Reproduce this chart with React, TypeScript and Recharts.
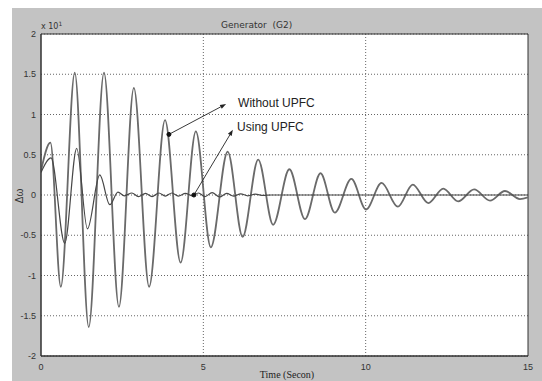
import React from 'react';
import {
  LineChart,
  Line,
  XAxis,
  YAxis,
  CartesianGrid,
  ReferenceArea,
  ReferenceLine,
  ReferenceDot,
} from 'recharts';

// Time (s) and Δω (x10^-1)
const withoutUpfcTime = [
  0, 0.29, 0.61, 1.04, 1.47, 1.94, 2.4, 2.86, 3.33, 3.82, 4.3, 4.77, 5.23, 5.75, 6.21, 6.69,
  7.15, 7.65, 8.13, 8.61, 9.05, 9.56, 10.01, 10.49, 10.99, 11.45, 11.93, 12.39, 12.85, 13.34,
  13.83, 14.29, 14.75, 15,
];
const withoutUpfcValues = [
  0.3, 0.65, -1.14, 1.52, -1.64, 1.52, -1.39, 1.33, -1.14, 0.93, -0.84, 0.79, -0.65, 0.54,
  -0.52, 0.44, -0.37, 0.32, -0.3, 0.27, -0.22, 0.2, -0.18, 0.15, -0.145, 0.13, -0.1, 0.08,
  -0.08, 0.07, -0.07, 0.05, -0.05, -0.03,
];

const usingUpfcTime = [
  0, 0.31, 0.73, 1.1, 1.43, 1.81, 2.12, 2.37, 2.57, 2.8, 3.0, 3.22, 3.42, 3.63, 3.83, 4.03,
  4.23, 4.45, 4.65, 4.85, 5.05, 5.27, 5.5, 5.72, 5.93, 6.15, 6.37, 6.6, 6.85, 7.1, 15,
];
const usingUpfcValues = [
  0.28, 0.46, -0.6, 0.58, -0.42, 0.25, -0.12, 0.035, -0.01, 0.025, -0.02, 0.02, -0.02, 0.025,
  -0.015, 0.025, -0.015, 0.02, -0.01, 0.025, -0.02, 0.03, -0.025, 0.02, -0.015, 0.015, -0.01,
  0.01, -0.005, 0, 0,
];

const xTicks = [0, 5, 10, 15];
const yTicks = [-2, -1.5, -1, -0.5, 0, 0.5, 1, 1.5, 2];

const withoutData = withoutUpfcTime.map((t, i) => ({ t, v: withoutUpfcValues[i] }));
const usingData = usingUpfcTime.map((t, i) => ({ t, v: usingUpfcValues[i] }));

const arrowShape = (p: any) => {
  const { x1, y1, x2, y2 } = p;
  const dx = x2 - x1;
  const dy = y2 - y1;
  const len = Math.sqrt(dx * dx + dy * dy) || 1;
  const ux = dx / len;
  const uy = dy / len;
  const hl = 6;
  const hw = 2.2;
  const bx = x2 - ux * hl;
  const by = y2 - uy * hl;
  const pts = `${x2},${y2} ${bx - uy * hw},${by + ux * hw} ${bx + uy * hw},${by - ux * hw}`;
  return (
    <g>
      <line x1={x1} y1={y1} x2={bx} y2={by} stroke="#222" strokeWidth={0.9} />
      <polygon points={pts} fill="#222" />
    </g>
  );
};

const textShape = (label: string) => (p: any) => (
  <text
    x={p.cx}
    y={p.cy}
    fontFamily="Liberation Sans, Arial, sans-serif"
    fontSize={12}
    fill="#222"
  >
    {label}
  </text>
);

const tickStyle = { fontSize: 9, fill: '#333', fontFamily: 'Liberation Sans, Arial, sans-serif' };

export default function App() {
  return (
    <div style={{ position: 'absolute', left: 0, top: 0, width: 542, height: 381, background: '#fff' }}>
      <div style={{ position: 'absolute', left: 12, top: 8, width: 530, height: 373, background: '#c3c3c3' }} />
      <div style={{ position: 'absolute', left: 0, top: 0 }}>
        <LineChart width={542} height={381} margin={{ top: 34, right: 14, bottom: 5, left: 11 }}>
          <CartesianGrid
            fill="#ffffff"
            stroke="#666"
            strokeDasharray="1 2"
            verticalValues={[5, 10]}
          />
          <XAxis
            type="number"
            dataKey="t"
            domain={[0, 15]}
            ticks={xTicks}
            allowDataOverflow
            height={20}
            tickLine={false}
            axisLine={{ stroke: '#333' }}
            tick={tickStyle}
          />
          <YAxis
            type="number"
            domain={[-2, 2]}
            ticks={yTicks}
            allowDataOverflow
            width={30}
            tickLine={false}
            tickSize={4}
            tickMargin={1}
            axisLine={{ stroke: '#333' }}
            tick={tickStyle}
          />
          <Line
            data={withoutData}
            dataKey="v"
            type="monotone"
            stroke="#6a6a6a"
            strokeWidth={1.8}
            dot={false}
            isAnimationActive={false}
          />
          <Line
            data={usingData}
            dataKey="v"
            type="monotone"
            stroke="#474747"
            strokeWidth={1.2}
            dot={false}
            isAnimationActive={false}
          />
          <ReferenceArea x1={0} x2={15} y1={-2} y2={2} fill="none" fillOpacity={0} stroke="#333" strokeWidth={1} />
          <ReferenceLine segment={[{ x: 3.94, y: 0.753 }, { x: 5.7, y: 1.13 }]} shape={arrowShape} />
          <ReferenceLine segment={[{ x: 4.71, y: 0 }, { x: 5.91, y: 0.81 }]} shape={arrowShape} />
          <ReferenceDot x={3.94} y={0.753} r={2} fill="#111" stroke="#111" />
          <ReferenceDot x={4.71} y={0} r={2} fill="#111" stroke="#111" />
          <ReferenceDot x={6.07} y={1.09} r={0} shape={textShape('Without UPFC')} />
          <ReferenceDot x={6.04} y={0.79} r={0} shape={textShape('Using UPFC')} />
        </LineChart>
      </div>
      <svg
        width={542}
        height={381}
        style={{ position: 'absolute', left: 0, top: 0, pointerEvents: 'none' }}
      >
        <text
          x={221}
          y={28}
          fontFamily="DejaVu Sans, sans-serif"
          fontSize={9}
          fill="#333"
          style={{ whiteSpace: 'pre' }}
        >
          {'Generator  (G2)'}
        </text>
        <text x={41} y={29} fontFamily="DejaVu Sans, sans-serif" fontSize={8} fill="#333">
          x 10
          <tspan dy={-3} fontSize={6}>1</tspan>
        </text>
        <text
          x={0}
          y={0}
          transform="translate(23,196) rotate(-90)"
          textAnchor="middle"
          fontFamily="Liberation Sans, Arial, sans-serif"
          fontSize={10}
          fill="#333"
        >
          Δω
        </text>
        <text
          x={287}
          y={378}
          textAnchor="middle"
          fontFamily="Liberation Serif, Times New Roman, serif"
          fontSize={10}
          fill="#222"
        >
          Time (Secon)
        </text>
      </svg>
    </div>
  );
}
